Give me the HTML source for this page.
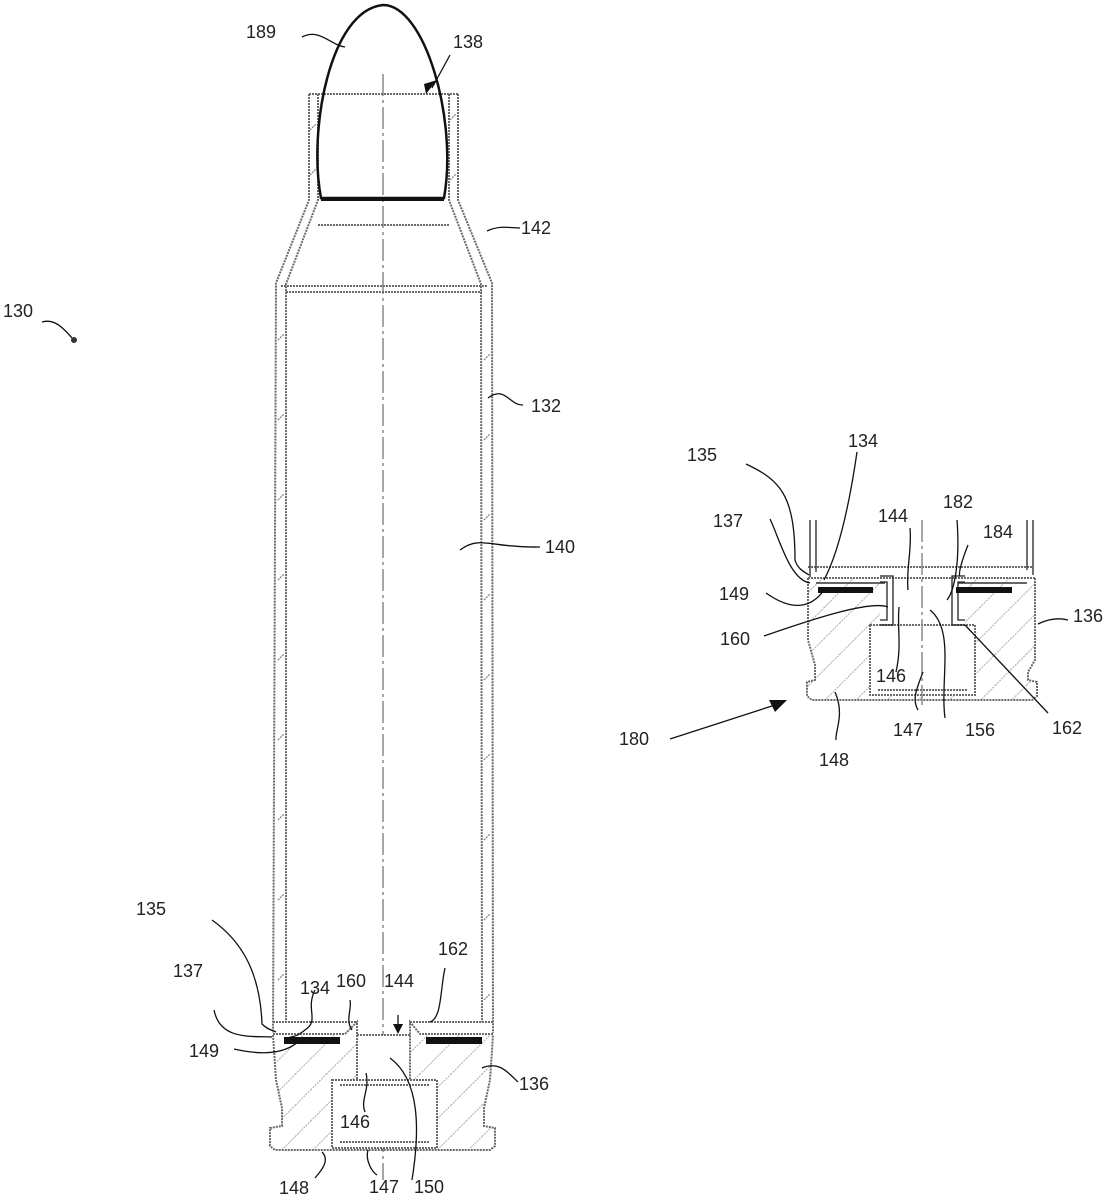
<!DOCTYPE html>
<html><head><meta charset="utf-8"><style>
html,body{margin:0;padding:0;background:#fff;}
svg{display:block;}
text{font-family:"Liberation Sans",sans-serif;font-size:18px;fill:#222;}
.d{fill:none;stroke:#6a6a6a;stroke-width:2;stroke-dasharray:2 1;}
.h{stroke:#888;stroke-width:1.3;stroke-dasharray:2 1;}
.c{fill:none;stroke:#888;stroke-width:1.5;stroke-dasharray:22 4 3 4;}
.l{fill:none;stroke:#111;stroke-width:1.3;}
</style></head><body>
<svg width="1112" height="1200" viewBox="0 0 1112 1200" xmlns="http://www.w3.org/2000/svg">
<defs>
<pattern id="hat" width="22" height="22" patternUnits="userSpaceOnUse" patternTransform="rotate(45)">
<line x1="0" y1="0" x2="0" y2="22" stroke="#888" stroke-width="1.4" stroke-dasharray="2 1"/>
</pattern>
</defs>
<line class="c" x1="383" y1="74" x2="383" y2="1180"/>
<path class="d" d="M309,94 L458,94"/>
<path class="d" d="M309,94 L309,200 L276,283 L273,1033"/>
<path class="d" d="M318,94 L318,200 L286,284 L286,1022"/>
<path class="d" d="M458,94 L458,200 L492,283 L493,1033"/>
<path class="d" d="M449,94 L449,200 L481,284 L482,1022"/>
<path class="d" d="M318,225 L449,225"/>
<path class="d" d="M281,286 L487,286"/>
<path class="d" d="M286,292 L482,292"/>
<g class="h">
<line x1="310" y1="130" x2="316" y2="124"/><line x1="310" y1="175" x2="316" y2="169"/>
<line x1="450" y1="120" x2="456" y2="114"/><line x1="450" y1="180" x2="456" y2="174"/>
<line x1="278" y1="340" x2="284" y2="334"/><line x1="278" y1="420" x2="284" y2="414"/>
<line x1="278" y1="500" x2="284" y2="494"/><line x1="278" y1="580" x2="284" y2="574"/>
<line x1="278" y1="660" x2="284" y2="654"/><line x1="278" y1="740" x2="284" y2="734"/>
<line x1="278" y1="820" x2="284" y2="814"/><line x1="278" y1="900" x2="284" y2="894"/>
<line x1="278" y1="980" x2="284" y2="974"/>
<line x1="484" y1="360" x2="490" y2="354"/><line x1="484" y1="440" x2="490" y2="434"/>
<line x1="484" y1="520" x2="490" y2="514"/><line x1="484" y1="600" x2="490" y2="594"/>
<line x1="484" y1="680" x2="490" y2="674"/><line x1="484" y1="760" x2="490" y2="754"/>
<line x1="484" y1="840" x2="490" y2="834"/><line x1="484" y1="920" x2="490" y2="914"/>
<line x1="484" y1="1000" x2="490" y2="994"/>
</g>
<path d="M321,198 C308,130 330,10 383,5 C425,5 458,120 444,198 Z" fill="none" stroke="#111" stroke-width="2.5"/>
<line x1="321" y1="199" x2="444" y2="199" stroke="#111" stroke-width="4"/>
<path d="M273,1035 L493,1035 L490,1080 L484,1108 L484,1126 L495,1128 L495,1146 L490,1150 L275,1150 L270,1146 L270,1128 L282,1126 L282,1108 L276,1080 Z" fill="url(#hat)"/>
<path d="M332,1080 L437,1080 L437,1148 L332,1148 Z M357,1035 L410,1035 L410,1080 L357,1080 Z" fill="#fff"/>
<path class="d" d="M273,1035 L276,1080 L282,1108 L282,1126 L270,1128 L270,1146 L275,1150 L490,1150 L495,1146 L495,1128 L484,1126 L484,1108 L490,1080 L493,1035"/>
<path class="d" d="M273,1022 L357,1022 M410,1022 L493,1022"/>
<path class="d" d="M273,1034 L345,1034 L357,1022 L357,1080 M493,1034 L420,1034 L410,1022 L410,1080"/>
<path class="d" d="M357,1035 L410,1035"/>
<path class="d" d="M332,1080 L437,1080 L437,1148 L332,1148 Z"/>
<path class="d" d="M340,1085 L430,1085 M340,1142 L430,1142"/>
<rect x="284" y="1037" width="56" height="7" fill="#111"/>
<rect x="426" y="1037" width="56" height="7" fill="#111"/>
<!-- INSET -->
<path d="M808,578 L1035,578 L1035,660 L1028,672 L1028,680 L1037,682 L1037,696 L1032,700 L812,700 L807,696 L807,682 L815,680 L815,665 L808,640 Z" fill="url(#hat)"/>
<path d="M870,625 L975,625 L975,695 L870,695 Z M880,573 L965,573 L965,625 L880,625 Z" fill="#fff"/>
<path class="d" d="M808,578 L808,640 L815,665 L815,680 L807,682 L807,696 L812,700 L1032,700 L1037,696 L1037,682 L1028,680 L1028,672 L1035,660 L1035,578"/>
<path class="d" d="M870,625 L975,625 L975,695 L870,695 Z"/>
<path class="d" d="M878,690 L968,690"/>
<path class="d" d="M808,567 L1033,567 M808,578 L1035,578"/>
<path d="M810,520 L810,577 M816,520 L816,572 M1033,520 L1033,575 M1027,520 L1027,570" fill="none" stroke="#333" stroke-width="1.4"/>
<line class="c" x1="922" y1="520" x2="922" y2="705"/>
<path d="M880,576 L893,576 L893,625 L880,625 M880,582 L887,582 L887,620 L880,620" fill="none" stroke="#222" stroke-width="1.3"/>
<path d="M965,576 L952,576 L952,625 L965,625 M965,582 L958,582 L958,620 L965,620" fill="none" stroke="#222" stroke-width="1.3"/>
<rect x="818" y="587" width="55" height="6" fill="#111"/>
<rect x="956" y="587" width="56" height="6" fill="#111"/>
<path d="M816,583 L885,583 M958,583 L1027,583" stroke="#333" stroke-width="1.5"/>
<g class="l">
<path d="M302,37 C320,28 330,45 345,47"/>
<path d="M450,55 L432,88"/>
<path d="M487,231 C500,225 510,228 520,228" />
<path d="M488,398 C505,385 510,406 523,405"/>
<path d="M460,550 C480,535 490,548 540,547"/>
<path d="M42,322 C55,318 65,330 72,338"/>
<path d="M212,920 C240,940 260,970 262,1024 C268,1030 272,1030 276,1032"/>
<path d="M315,990 C305,1010 320,1020 305,1030 C295,1038 292,1036 288,1038"/>
<path d="M214,1010 C220,1040 250,1036 272,1037"/>
<path d="M234,1049 C260,1055 285,1055 300,1040"/>
<path d="M350,1000 C352,1010 345,1020 352,1030"/>
<path d="M445,968 C440,990 442,1018 430,1022"/>
<path d="M482,1068 C500,1060 510,1075 518,1082"/>
<path d="M366,1073 C370,1090 360,1100 365,1112"/>
<path d="M390,1058 C420,1080 420,1130 412,1180"/>
<path d="M322,1152 C330,1160 322,1170 315,1178"/>
<path d="M368,1150 C365,1160 372,1172 377,1175"/>
</g>
<path d="M398,1015 L398,1032" stroke="#111" stroke-width="1.3"/>
<path d="M393,1024 L403,1024 L398,1034 Z" fill="#111"/>
<path d="M426,94 L437,80 L424,84 Z" fill="#111"/>
<circle cx="74" cy="340" r="3" fill="#333"/>
<g class="l">
<path d="M746,464 C780,480 795,495 795,560 C798,570 805,572 809,575"/>
<path d="M857,452 C850,500 840,550 824,580"/>
<path d="M770,519 C780,540 790,580 810,583"/>
<path d="M766,593 C790,610 810,610 824,590"/>
<path d="M764,636 C810,620 870,600 888,607"/>
<path d="M910,528 C912,550 906,570 908,590"/>
<path d="M957,520 C960,560 955,590 947,600"/>
<path d="M968,545 C962,560 958,574 960,576"/>
<path d="M1038,624 C1050,618 1060,618 1068,620"/>
<path d="M899,607 C897,630 902,645 896,672"/>
<path d="M923,672 C916,690 912,700 918,710"/>
<path d="M930,610 C955,630 940,680 945,718"/>
<path d="M965,625 L1048,713"/>
<path d="M835,692 C845,715 835,730 836,740"/>
<path d="M670,739 L775,705"/>
</g>
<path d="M787,700 L769,700 L775,712 Z" fill="#111"/>
<text x="246" y="38">189</text>
<text x="453" y="48">138</text>
<text x="521" y="234">142</text>
<text x="3" y="317">130</text>
<text x="531" y="412">132</text>
<text x="545" y="553">140</text>
<text x="136" y="915">135</text>
<text x="438" y="955">162</text>
<text x="173" y="977">137</text>
<text x="300" y="994">134</text>
<text x="336" y="987">160</text>
<text x="384" y="987">144</text>
<text x="189" y="1057">149</text>
<text x="519" y="1090">136</text>
<text x="340" y="1128">146</text>
<text x="279" y="1194">148</text>
<text x="369" y="1193">147</text>
<text x="414" y="1193">150</text>
<text x="687" y="461">135</text>
<text x="848" y="447">134</text>
<text x="943" y="508">182</text>
<text x="713" y="527">137</text>
<text x="878" y="522">144</text>
<text x="983" y="538">184</text>
<text x="719" y="600">149</text>
<text x="1073" y="622">136</text>
<text x="720" y="645">160</text>
<text x="876" y="682">146</text>
<text x="619" y="745">180</text>
<text x="893" y="736">147</text>
<text x="965" y="736">156</text>
<text x="1052" y="734">162</text>
<text x="819" y="766">148</text>
</svg>
</body></html>
